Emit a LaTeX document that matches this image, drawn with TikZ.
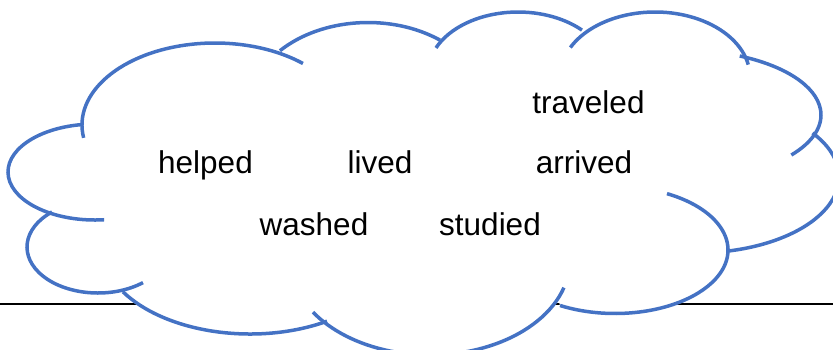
\documentclass[tikz,border=0pt]{standalone}
\usepackage{fontspec}
\setmainfont{Liberation Sans}
\definecolor{cloudblue}{RGB}{68,114,196}
\begin{document}
\begin{tikzpicture}[x=1pt,y=-1pt,
  cloudline/.style={draw=cloudblue, line width=3.5pt},
  word/.style={anchor=base, inner sep=0pt, font=\fontsize{31.5}{38}\selectfont},
  rule/.style={draw=black, line width=2pt}]
\useasboundingbox (0,0) rectangle (833,349);
\clip (0,0) rectangle (833,349);
% horizontal line behind the cloud
\coordinate (L1) at (0,303.5);
\coordinate (L2) at (833,303.5);
\draw[rule] (L1) -- (L2);
% white fill of the cloud
\fill[white]
  ([shift={(95,172)}]119.6:87 and 48) arc[start angle=119.6, end angle=262.1, x radius=87, y radius=48]
  -- ([shift={(215,125)}]178.6:133 and 82) arc[start angle=178.6, end angle=299.3, x radius=133, y radius=82]
  -- ([shift={(368,110.5)}]222.8:120 and 88) arc[start angle=222.8, end angle=306.9, x radius=120, y radius=88]
  -- ([shift={(518,73)}]209.9:90 and 61) arc[start angle=209.9, end angle=315.3, x radius=90, y radius=61]
  -- ([shift={(655,77)}]219.8:95 and 65) arc[start angle=219.8, end angle=341.3, x radius=95, y radius=65]
  -- ([shift={(681,115)}]-65.2:140 and 65) arc[start angle=-65.2, end angle=16.1, x radius=140, y radius=65]
  -- ([shift={(696,177)}]-35.4:143 and 76) arc[start angle=-35.4, end angle=76.8, x radius=143, y radius=76]
  -- ([shift={(615,250)}]0:113 and 63.5) arc[start angle=0, end angle=119.1, x radius=113, y radius=63.5]
  -- ([shift={(430,260)}]24:140 and 95) arc[start angle=24, end angle=137.4, x radius=140, y radius=95]
  -- ([shift={(250,244)}]59.1:150 and 90) arc[start angle=59.1, end angle=147.9, x radius=150, y radius=90]
  -- ([shift={(98,247)}]69.4:71 and 46) arc[start angle=69.4, end angle=229.6, x radius=71, y radius=46]
  -- cycle;
% cloud outline: each bump, with its inner tail
\draw[cloudline] (95,172) ++(84:87 and 48) arc[start angle=84, end angle=262.1, x radius=87, y radius=48];
\draw[cloudline] (215,125) ++(171:133 and 82) arc[start angle=171, end angle=311.4, x radius=133, y radius=82];
\draw[cloudline] (368,110.5) ++(222.8:120 and 88) arc[start angle=222.8, end angle=306.9, x radius=120, y radius=88];
\draw[cloudline] (518,73) ++(204.3:90 and 61) arc[start angle=204.3, end angle=315.3, x radius=90, y radius=61];
\draw[cloudline] (655,77) ++(207:95 and 65) arc[start angle=207, end angle=349, x radius=95, y radius=65];
\draw[cloudline] (681,115) ++(-65.2:140 and 65) arc[start angle=-65.2, end angle=38, x radius=140, y radius=65];
\draw[cloudline] (696,177) ++(-35.4:143 and 76) arc[start angle=-35.4, end angle=76.8, x radius=143, y radius=76];
\draw[cloudline] (615,250) ++(-62.6:113 and 63.5) arc[start angle=-62.6, end angle=119.1, x radius=113, y radius=63.5];
\draw[cloudline] (430,260) ++(16.9:140 and 95) arc[start angle=16.9, end angle=146.7, x radius=140, y radius=95];
\draw[cloudline] (250,244) ++(59.1:150 and 90) arc[start angle=59.1, end angle=147.9, x radius=150, y radius=90];
\draw[cloudline] (98,247) ++(50.7:71 and 46) arc[start angle=50.7, end angle=229.6, x radius=71, y radius=46];
% words
\node[word] (helped) at (205.5,173) {helped};
\node[word] (lived) at (380,173) {lived};
\node[word] (washed) at (314,235) {washed};
\node[word] (traveled) at (588.5,113) {traveled};
\node[word] (arrived) at (584,173) {arrived};
\node[word] (studied) at (490,235) {studied};
\end{tikzpicture}
\end{document}
